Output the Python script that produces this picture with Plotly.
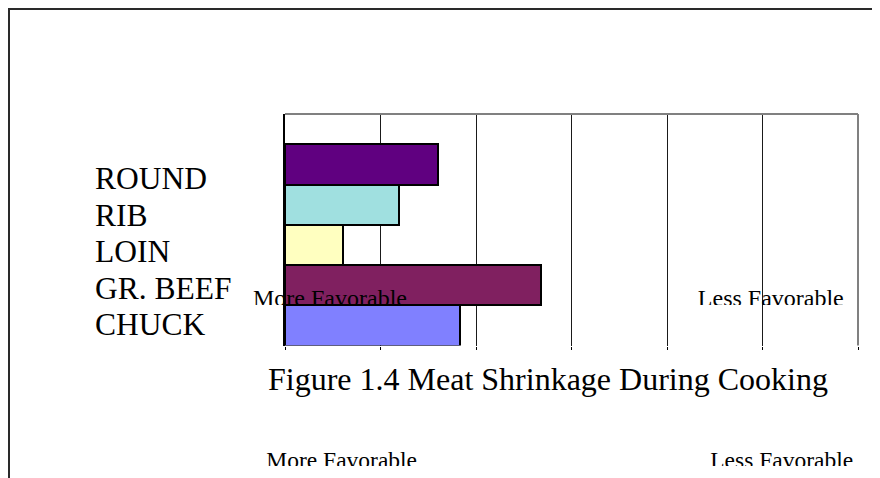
import plotly.graph_objects as go

# ---- data ----
categories = ["CHUCK", "GR. BEEF", "LOIN", "RIB", "ROUND"]
shrinkage = [9.16, 13.39, 3.05, 5.98, 8.03]
bar_colors = ["#8080ff", "#802060", "#ffffc0", "#a0e0e0", "#600080"]
label_order = ["ROUND", "RIB", "LOIN", "GR. BEEF", "CHUCK"]
title_text = "Figure 1.4 Meat Shrinkage During Cooking"
scale_text = ["More Favorable", "Less Favorable"]

W, H = 880, 478
OFF = 8  # page body margin of the html page
FONT = "Liberation Serif"


def px(x):
    return (x - OFF) / W


def py(y):
    return 1 - (y - OFF) / H


fig = go.Figure()

fig.add_trace(go.Bar(
    y=categories, x=shrinkage, orientation="h",
    marker=dict(color=bar_colors, line=dict(color="black", width=2)),
    xaxis="x", yaxis="y", hoverinfo="skip", showlegend=False,
))

# scale captions inside the chart (clipped at their bottom like the original)
fig.add_trace(go.Scatter(
    x=[330, 770.8], y=[-299.5, -299.5], mode="text", text=scale_text,
    textposition="middle center",
    textfont=dict(family=FONT, size=24, color="black"),
    cliponaxis=True, xaxis="x2", yaxis="y2", hoverinfo="skip", showlegend=False,
))
# scale captions below the title
fig.add_trace(go.Scatter(
    x=[341.7, 781.7], y=[-461.8, -461.8], mode="text", text=scale_text,
    textposition="middle center",
    textfont=dict(family=FONT, size=23.5, color="black"),
    cliponaxis=True, xaxis="x3", yaxis="y3", hoverinfo="skip", showlegend=False,
))

annotations = []
for i, lab in enumerate(label_order):
    annotations.append(dict(
        text=lab, x=px(93), y=py(178.8 + i * 36.4), xref="paper", yref="paper",
        xanchor="left", yanchor="middle", showarrow=False,
        font=dict(family=FONT, size=31.5, color="black"),
    ))
annotations.append(dict(
    text=title_text, x=px(547.5), y=py(379.4), xref="paper", yref="paper",
    xanchor="center", yanchor="middle", showarrow=False,
    font=dict(family=FONT, size=32, color="black"),
))

shapes = [
    dict(type="rect", xref="paper", yref="paper", x0=px(9), x1=1.05,
         y0=-0.05, y1=py(9), line=dict(color="#2a2a2a", width=2)),
    dict(type="line", xref="x domain", yref="y domain", x0=0, x1=1, y0=1, y1=1,
         line=dict(color="#808080", width=2)),
    dict(type="line", xref="x domain", yref="y domain", x0=1, x1=1, y0=0, y1=1,
         line=dict(color="#808080", width=2)),
]

fig.update_layout(
    width=W, height=H,
    margin=dict(l=0, r=0, t=0, b=0, pad=0),
    paper_bgcolor="white", plot_bgcolor="rgba(0,0,0,0)",
    showlegend=False, bargap=0,
    xaxis=dict(domain=[px(285), px(858)], range=[0, 30], tick0=0, dtick=5,
               showgrid=True, gridcolor="#1a1a1a", gridwidth=1,
               zeroline=False, showline=False, ticks="outside", ticklen=3,
               tickcolor="black", showticklabels=False, anchor="y", fixedrange=True),
    yaxis=dict(domain=[py(345.5), py(114)], type="category",
               categoryorder="array", categoryarray=categories,
               range=[-0.5, 5.253], showline=True, linecolor="black", linewidth=1.5,
               ticks="", showticklabels=False, showgrid=False, zeroline=False,
               anchor="x", fixedrange=True),
    xaxis2=dict(domain=[0, 1], range=[OFF, W + OFF], visible=False, anchor="y2",
                fixedrange=True),
    yaxis2=dict(domain=[py(305), py(114)], range=[-305, -114], visible=False,
                anchor="x2", fixedrange=True),
    xaxis3=dict(domain=[0, 1], range=[OFF, W + OFF], visible=False, anchor="y3",
                fixedrange=True),
    yaxis3=dict(domain=[py(466), py(420)], range=[-466, -420], visible=False,
                anchor="x3", fixedrange=True),
    annotations=annotations,
    shapes=shapes,
)

fig.write_html("out.html")
